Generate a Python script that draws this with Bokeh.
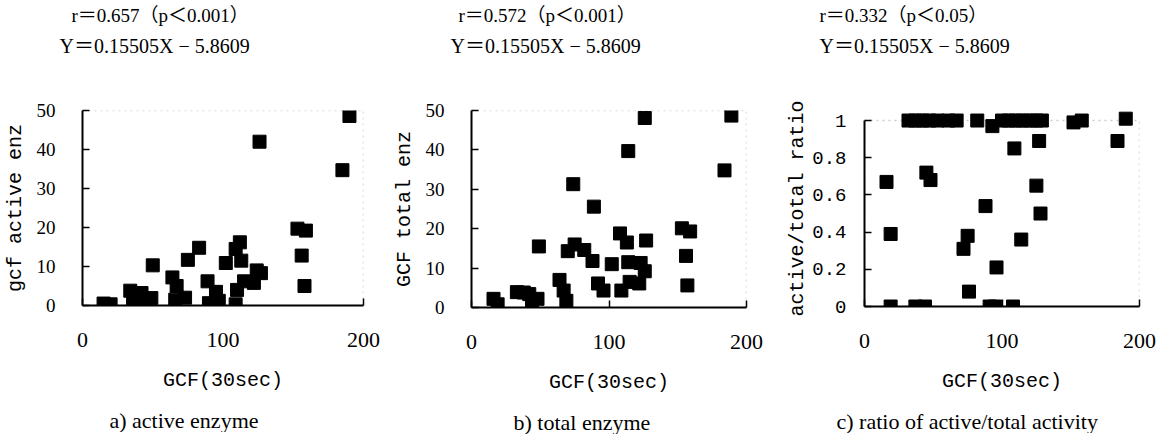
from bokeh.plotting import figure
from bokeh.models import Range1d, FixedTicker, Title, CustomJSTickFormatter, BoxAnnotation
from bokeh.layouts import row
from bokeh.embed import file_html
from bokeh.resources import INLINE

# ---- data ----
gcf_a = [15, 20, 34, 36, 42, 44, 49, 50, 64, 67, 66, 73, 75, 83, 89, 90, 95, 97, 102, 109,
         112, 113, 109, 110, 115, 122, 124, 127, 126, 153, 159, 156, 158, 185, 190]
active_enz = [0.5, 0.3, 3.8, 0.6, 3.2, 0.6, 1.9, 10.3, 7.2, 5.0, 1.5, 2.0, 11.7, 14.8, 6.2, 0.6, 3.5, 1.2, 10.9, 14.5,
              16.2, 11.5, 0.3, 4.0, 6.2, 5.8, 9.0, 8.3, 42.0, 19.7, 19.2, 12.8, 5.0, 34.7, 48.6]

gcf_b = [16, 19, 33, 38, 42, 44, 48, 49, 64, 67, 69, 70, 74, 75, 82, 88, 89, 92, 96, 102,
         108, 109, 113, 114, 114, 115, 122, 123, 126, 126, 127, 153, 159, 156, 157, 184, 189]
total_enz = [2.2, 0.8, 3.9, 3.8, 3.4, 0.9, 2.2, 15.5, 7.0, 4.3, 1.7, 14.3, 31.3, 16.0, 14.6, 11.8, 25.6, 6.1, 4.3, 11.0,
             18.8, 4.3, 16.5, 11.5, 39.7, 6.5, 6.1, 11.3, 9.2, 48.1, 17.0, 20.1, 19.3, 13.1, 5.6, 34.8, 48.7]

gcf_c = [32, 37, 42, 47, 53, 61, 67, 82, 93, 100, 105, 110, 115, 120, 125, 129, 152, 158, 190,
         109, 127, 184, 16, 45, 48, 125, 88, 128, 19, 75, 72, 114, 96, 76,
         19, 37, 44, 91, 95, 108]
ratio = [1, 1, 1, 1, 1, 1, 1, 1, 0.97, 1, 1, 1, 1, 1, 1, 1, 0.99, 1, 1.01,
         0.85, 0.89, 0.89, 0.67, 0.72, 0.68, 0.65, 0.54, 0.5, 0.39, 0.38, 0.31, 0.36, 0.21, 0.08,
         0, 0, 0, 0, 0, 0]

x_ticks = [0, 100, 200]
enz_ticks = [0, 10, 20, 30, 40, 50]
ratio_ticks = [0, 0.2, 0.4, 0.6, 0.8, 1]

headers = [("r＝0.657（p＜0.001）", "Y＝0.15505X − 5.8609"),
           ("r＝0.572（p＜0.001）", "Y＝0.15505X − 5.8609"),
           ("r＝0.332（p＜0.05）", "Y＝0.15505X − 5.8609")]
y_titles = ["gcf active enz", "GCF total enz", "active/total ratio"]
x_title = "GCF(30sec)"
captions = ["a) active enzyme", "b) total enzyme", "c) ratio of active/total activity"]

SERIF = "'Liberation Serif', 'Noto Sans CJK JP'"
MONO = "'Liberation Mono'"
TOP = 104      # common top border (row aligns borders)
BOTTOM = 124   # common bottom border


def panel(xs, ys, yticks, y_end, header, ytitle, caption, fw, fh, bl, br, hoff, capoff,
          ytick_font, ytick_standoff, ytitle_standoff):
    p = figure(title=None, x_range=Range1d(0, 200), y_range=Range1d(0, y_end),
               frame_width=fw, frame_height=fh,
               min_border_left=bl, min_border_right=br, min_border_top=TOP,
               min_border_bottom=BOTTOM,
               output_backend="svg", toolbar_location=None,
               background_fill_color="white", border_fill_color="white")
    p.xgrid.visible = False
    p.ygrid.visible = False
    p.outline_line_color = None
    # dotted plot box (top / right edges) at the axis limits
    p.add_layout(BoxAnnotation(left=x_ticks[0], right=x_ticks[-1], bottom=yticks[0], top=yticks[-1],
                               fill_alpha=0, line_color="#555555", line_dash="dotted", line_width=1.5,
                               level="underlay"))

    p.scatter(xs, ys, marker="square", size=13, fill_color="black", line_color="black")

    xa = p.xaxis[0]
    ya = p.yaxis[0]
    xa.ticker = FixedTicker(ticks=x_ticks)
    ya.ticker = FixedTicker(ticks=yticks)
    ya.bounds = (yticks[0], yticks[-1])
    ya.formatter = CustomJSTickFormatter(code="return String(Math.round(tick*10)/10)")
    for ax in (xa, ya):
        ax.axis_line_width = 2
        ax.axis_line_color = "black"
        ax.major_tick_in = 7
        ax.major_tick_out = 0
        ax.minor_tick_in = 0
        ax.minor_tick_out = 0
        ax.major_tick_line_width = 1.5
        ax.major_tick_line_color = "black"
        ax.major_label_text_color = "black"
        ax.axis_label_text_color = "black"
        ax.axis_label_text_font_style = "normal"
        ax.axis_label_text_font = MONO
        ax.axis_label_text_font_size = "20px"
    xa.major_label_text_font = SERIF
    xa.major_label_text_font_size = "22px"
    xa.major_label_standoff = 27
    xa.axis_label = x_title
    xa.axis_label_standoff = 19
    ya.major_label_text_font = ytick_font[0]
    ya.major_label_text_font_size = ytick_font[1]
    ya.major_label_standoff = ytick_standoff
    ya.axis_label = ytitle
    ya.axis_label_standoff = ytitle_standoff

    # above: spacer nearest the frame, then the two header lines
    spacer = Title(text=" ", standoff=45, text_font_size="1px")
    t2 = Title(text=header[1], align="left", offset=hoff[1], standoff=11,
               text_font=SERIF, text_font_size="20px", text_font_style="normal", text_color="black")
    t1 = Title(text=header[0], align="left", offset=hoff[0], standoff=4,
               text_font=SERIF, text_font_size="19px", text_font_style="normal", text_color="black")
    p.add_layout(spacer, "above")
    p.add_layout(t2, "above")
    p.add_layout(t1, "above")

    # below the x axis: a small spacer, then the caption
    gap = Title(text=" ", standoff=8, text_font_size="1px")
    cap = Title(text=caption, align="left", offset=capoff, standoff=0,
                text_font=SERIF, text_font_size="22px", text_font_style="normal", text_color="black")
    p.add_layout(gap, "below")
    p.add_layout(cap, "below")
    return p


pa = panel(gcf_a, active_enz, enz_ticks, 50, headers[0], y_titles[0], captions[0],
           fw=281, fh=195, bl=78, br=26, hoff=(-11, -23), capoff=27,
           ytick_font=(SERIF, "19px"), ytick_standoff=27, ytitle_standoff=7)
pb = panel(gcf_b, total_enz, enz_ticks, 50, headers[1], y_titles[1], captions[1],
           fw=275, fh=197, bl=78, br=37, hoff=(-13, -21), capoff=42,
           ytick_font=(SERIF, "19px"), ytick_standoff=27, ytitle_standoff=7)
# panel c: the box top (ratio 1) sits 10 px below the common frame top
pc = panel(gcf_c, ratio, ratio_ticks, 1.054, headers[2], y_titles[2], captions[2],
           fw=275, fh=196, bl=77, br=25, hoff=(-45, -45), capoff=-28,
           ytick_font=(MONO, "19px"), ytick_standoff=18, ytitle_standoff=0)

layout = row(pa, pb, pc)
open("out.html", "w").write(file_html(layout, INLINE))
